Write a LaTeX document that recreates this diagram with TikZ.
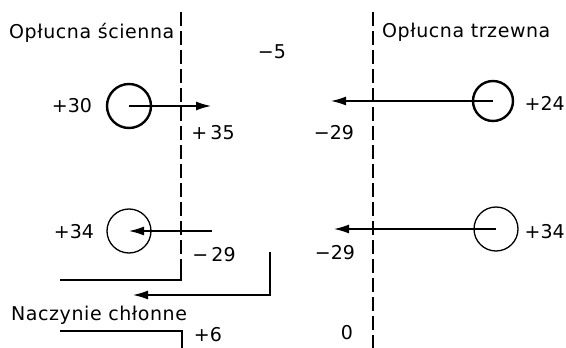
\documentclass[tikz,border=0pt]{standalone}
\usepackage{fontspec}
\setmainfont{DejaVu Sans}
\newfontfamily\widefont[LetterSpace=3]{DejaVu Sans}
\usetikzlibrary{arrows.meta}
\tikzset{
  lbl/.style={font=\fontsize{19}{21}\selectfont, inner sep=0pt},
  txt/.style={font=\widefont\fontsize{19}{21}\selectfont, inner sep=0pt, anchor=west},
  bubble/.style={circle, draw, minimum size=44pt, inner sep=0pt},
  wall/.style={line width=1.4pt, dash pattern=on 14pt off 5pt},
  flow/.style={line width=1.3pt, -{Latex[length=15pt,width=9pt]}}
}
\begin{document}
\begin{tikzpicture}[x=1pt,y=-1pt]
		\useasboundingbox (0,0) rectangle (566,348);
		% membranes
		\draw[wall] (181,12) -- (181,268);
		\draw[line width=1.3pt] (181,266) -- (181,280) -- (60,280);
		\draw[wall] (373,12) -- (373,348);
		\node[txt] (scienna) at (9,33) {Opłucna ścienna};
		\node[txt] (trzewna) at (382,32) {Opłucna trzewna};
		\node[lbl] (m5) at (272,52) {−5};
		% upper row
		\node[bubble, line width=2.4pt] (c1) at (129,106) {};
		\coordinate (t1) at (211,106);
		\draw[flow] (c1.center) -- (t1);
		\node[lbl] (p30) at (72,106) {+30};
		\node[lbl] (p35) at (213,133) {+\,35};
		\node[bubble, line width=2.4pt, minimum size=40pt] (c2) at (493,101) {};
		\coordinate (t2) at (331,101);
		\draw[flow] (c2.center) -- (t2);
		\node[lbl, anchor=east] (p24) at (565,103) {+24};
		\node[lbl] (m29a) at (334,133) {−29};
		% lower row
		\node[bubble, line width=1.3pt] (c3) at (129,231) {};
		\coordinate (s3) at (212,231);
		\draw[flow] (s3) -- (c3.center);
		\node[lbl] (p34a) at (74,232) {+34};
		\node[lbl] (m29b) at (214,255) {−\,29};
		\node[bubble, line width=1.3pt] (c4) at (496,229) {};
		\coordinate (t4) at (334,229);
		\draw[flow] (c4.center) -- (t4);
		\node[lbl, anchor=east] (p34b) at (565,232) {+34};
		\node[lbl] (m29c) at (335,253) {−29};
		% lymph vessel
		\coordinate (v1) at (270,252);
		\coordinate (v2) at (133,295);
		\draw[flow] (v1) -- (270,295) -- (v2);
		\node[txt] (naczynie) at (11,315) {Naczynie chłonne};
		\draw[line width=1.3pt] (60,331) -- (182,331) -- (182,348);
		\node[lbl] (p6) at (208,335) {+6};
		\node[lbl] (zero) at (347,333) {0};
\end{tikzpicture}
\end{document}
